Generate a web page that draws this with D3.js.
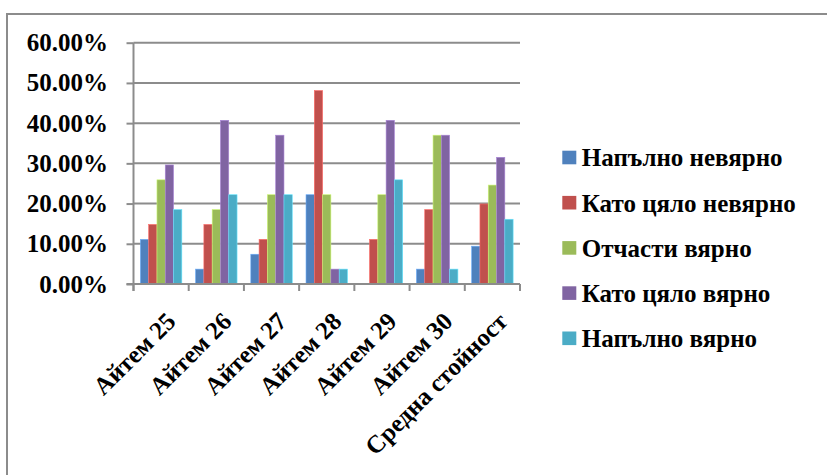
<!DOCTYPE html>
<html>
<head>
<meta charset="utf-8">
<script src="https://cdn.jsdelivr.net/npm/d3@7"></script>
<style>
  html, body { margin: 0; padding: 0; background: #fff; }
  #wrap { position: relative; width: 827px; height: 475px; overflow: hidden; }
  svg { display: block; position: absolute; left: 0; top: 0; }
  .lbl { position: absolute; white-space: nowrap; font-family: "Liberation Serif", "Times New Roman", serif; font-weight: bold; font-size: 25px; line-height: 25px; color: #000; }
</style>
</head>
<body>
<div id="wrap"><svg id="chart" width="827" height="475"></svg></div>
<script>
// Categories (items) and the share of answers for each response option
const categories = ["Айтем 25", "Айтем 26", "Айтем 27", "Айтем 28", "Айтем 29", "Айтем 30", "Средна стойност"];
const seriesNames = ["Напълно невярно", "Като цяло невярно", "Отчасти вярно", "Като цяло вярно", "Напълно вярно"];
const seriesColors = ["#4F81BD", "#C0504D", "#9BBB59", "#8064A2", "#4BACC6"];

const fullyFalse   = [0.111, 0.037, 0.074, 0.222, 0.000, 0.037, 0.094];
const mostlyFalse  = [0.148, 0.148, 0.111, 0.481, 0.111, 0.185, 0.199];
const partlyTrue   = [0.259, 0.185, 0.222, 0.222, 0.222, 0.370, 0.246];
const mostlyTrue   = [0.296, 0.407, 0.370, 0.037, 0.407, 0.370, 0.315];
const fullyTrue    = [0.185, 0.222, 0.222, 0.037, 0.259, 0.037, 0.161];

const yTicks = [0, 0.1, 0.2, 0.3, 0.4, 0.5, 0.6];

const seriesValues = [fullyFalse, mostlyFalse, partlyTrue, mostlyTrue, fullyTrue];

const GRID = "#8c8c8c";
const BASE = 20.9; // baseline offset from the top of a 25px label line

const wrap = d3.select("#wrap");
const svg = d3.select("#chart");

// Outer chart frame (left and top edges)
svg.append("line").attr("x1", 7).attr("x2", 7).attr("y1", 14).attr("y2", 475)
  .attr("stroke", GRID).attr("stroke-width", 2);
svg.append("line").attr("x1", 6).attr("x2", 827).attr("y1", 14).attr("y2", 14)
  .attr("stroke", GRID).attr("stroke-width", 2);

const plot = { left: 133.5, right: 520, top: 42.7, bottom: 284 };

const x0 = d3.scaleBand().domain(categories).range([plot.left, plot.right]).paddingInner(0).paddingOuter(0);
const x1 = d3.scaleBand().domain(seriesNames).range([0, x0.bandwidth()]).paddingInner(0).paddingOuter(0.83);
const y = d3.scaleLinear().domain([0, 0.6]).range([plot.bottom, plot.top]);

// Horizontal gridlines
svg.append("g").selectAll("line").data(yTicks).join("line")
  .attr("x1", plot.left).attr("x2", plot.right)
  .attr("y1", d => y(d)).attr("y2", d => y(d))
  .attr("stroke", GRID).attr("stroke-width", 2);

// Value axis (line and ticks; labels are set as HTML below)
const fmt = d => (d * 100).toFixed(2) + "%";
const yAxis = d3.axisLeft(y).tickValues(yTicks).tickSize(7).tickFormat("");
const yG = svg.append("g").attr("transform", `translate(${plot.left},0)`).call(yAxis);
yG.select(".domain").attr("stroke", GRID).attr("stroke-width", 2)
  .attr("d", `M0,${plot.top}V${plot.bottom + 7}`);
yG.selectAll(".tick line").attr("stroke", GRID).attr("stroke-width", 2);

wrap.selectAll("div.ylbl").data(yTicks).join("div")
  .attr("class", "lbl ylbl")
  .style("right", `${827 - (plot.left - 25.5)}px`)
  .style("top", d => `${y(d) - 12.5}px`)
  .text(fmt);

// Bars
const groups = svg.append("g").selectAll("g").data(categories).join("g")
  .attr("transform", d => `translate(${x0(d)},0)`);
groups.selectAll("rect")
  .data((c, ci) => seriesNames.map((s, si) => ({ s, si, v: seriesValues[si][ci] })))
  .join("rect")
  .attr("x", d => x1(d.s))
  .attr("width", x1.bandwidth())
  .attr("y", d => y(d.v))
  .attr("height", d => y(0) - y(d.v))
  .attr("fill", d => seriesColors[d.si])
  .attr("stroke", d => d3.color(seriesColors[d.si]).brighter(0.8))
  .attr("stroke-width", 0.6);

// Category axis
const xAxis = d3.axisBottom(x0).tickSize(0).tickFormat("");
const xG = svg.append("g").attr("transform", `translate(0,${plot.bottom})`).call(xAxis);
xG.select(".domain").attr("stroke", GRID).attr("stroke-width", 2)
  .attr("d", `M${plot.left - 7},0H${plot.right}`);
const boundaries = categories.map(c => x0(c)).concat([plot.right]);
svg.append("g").selectAll("line").data(boundaries).join("line")
  .attr("x1", d => d).attr("x2", d => d)
  .attr("y1", plot.bottom).attr("y2", plot.bottom + 7)
  .attr("stroke", GRID).attr("stroke-width", 2);

// Rotated category labels, right end of the baseline pinned below each group
wrap.selectAll("div.xlbl").data(categories).join("div")
  .attr("class", "lbl xlbl")
  .style("right", d => `${827 - (x0(d) + x0.bandwidth() / 2 + 16.5)}px`)
  .style("top", `${plot.bottom + 38.5 - BASE}px`)
  .style("transform-origin", `100% ${BASE}px`)
  .style("transform", "rotate(-45deg)")
  .text(d => d);

// Legend
const legend = svg.append("g").selectAll("rect").data(seriesNames).join("rect")
  .attr("x", 562.3)
  .attr("y", (d, i) => 157.5 + i * 45.2 - 6.8)
  .attr("width", 14).attr("height", 13.6)
  .attr("fill", (d, i) => seriesColors[i]);
wrap.selectAll("div.leg").data(seriesNames).join("div")
  .attr("class", "lbl leg")
  .style("left", "581.8px")
  .style("top", (d, i) => `${157.5 + i * 45.2 + 8.8 - BASE}px`)
  .text(d => d);
</script>
</body>
</html>
